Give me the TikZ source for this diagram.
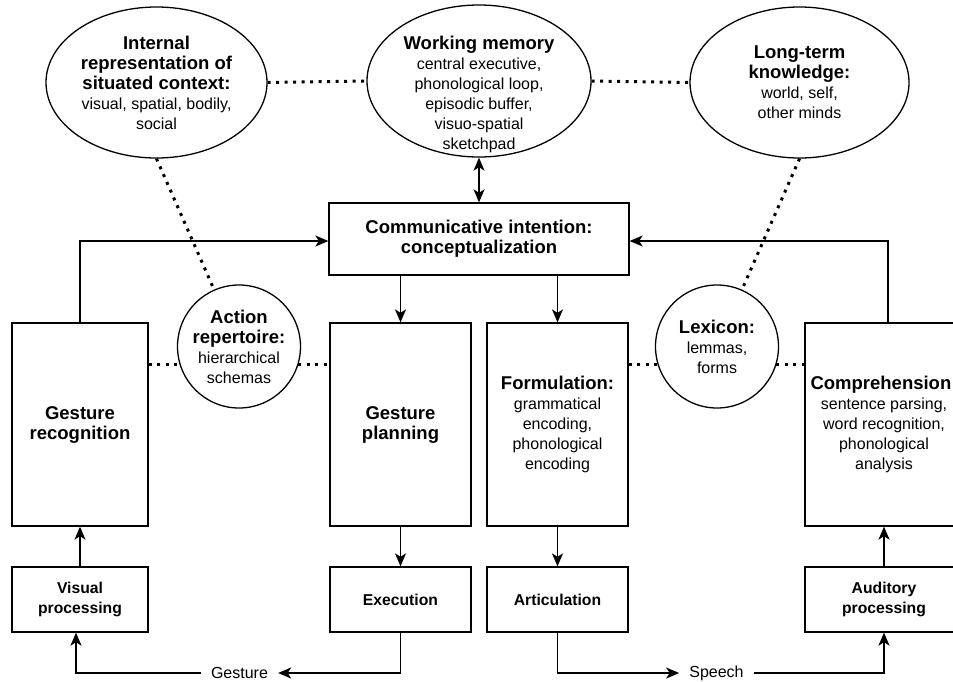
\documentclass[tikz,border=0pt]{standalone}
\usepackage{fontspec}
\setmainfont{Liberation Sans}
\usetikzlibrary{arrows.meta,shapes.geometric}
\newcommand{\tbf}{\fontsize{18.5}{20}\selectfont\bfseries}
\newcommand{\trg}{\fontsize{16}{20}\selectfont}
\newcommand{\sbf}{\fontsize{15.7}{20}\selectfont\bfseries}
\begin{document}
\begin{tikzpicture}[x=1pt,y=-1pt,
  box/.style={draw, line width=1.3pt, rectangle, inner sep=0pt, align=center, font=\trg},
  ell/.style={draw, line width=1.3pt, ellipse, inner sep=0pt, align=center, font=\trg},
  circ/.style={draw, line width=1.3pt, circle, inner sep=0pt, align=center, font=\trg, minimum size=123pt},
  arr/.style={line width=1.8pt, -{Stealth[length=13pt,width=11pt,inset=3.5pt]}},
  dblarr/.style={line width=1.8pt, {Stealth[length=13pt,width=11pt,inset=3.5pt]}-{Stealth[length=13pt,width=11pt,inset=3.5pt]}},
  dotline/.style={line width=3pt, dash pattern=on 3pt off 5.5pt},
  lbl/.style={font=\trg, inner xsep=10pt, inner ysep=0pt}]
\useasboundingbox (0,0) rectangle (953,681);
\clip (0,0) rectangle (953,681);

% ellipses
\node[ell, minimum width=221pt, minimum height=151pt] (ell1) at (156.5,82.5)
  {{\tbf Internal}\\{\tbf representation of}\\{\tbf situated context:}\\visual, spatial, bodily,\\social};
\node[ell, minimum width=224pt, minimum height=152pt] (ell2) at (479,81) {};
\node[align=center, font=\trg, inner sep=0pt] (ell2text) at (479,94.5)
  {{\tbf Working memory}\\central executive,\\phonological loop,\\episodic buffer,\\visuo-spatial\\sketchpad};
\node[ell, minimum width=219pt, minimum height=151pt] (ell3) at (799.5,82.5)
  {{\tbf Long-term}\\{\tbf knowledge:}\\world, self,\\other minds};

% central box
\node[box, minimum width=300pt, minimum height=72pt, font=\tbf] (comm) at (479,239)
  {Communicative intention:\\conceptualization};

% middle boxes
\node[box, minimum width=136pt, minimum height=203pt, font=\tbf] (grec) at (80,424.5)
  {Gesture\\recognition};
\node[box, minimum width=141pt, minimum height=203pt, font=\tbf] (gplan) at (400.5,424.5)
  {Gesture\\planning};
\node[box, minimum width=141pt, minimum height=203pt] (form) at (557.5,424.5)
  {{\tbf Formulation:}\\grammatical\\encoding,\\phonological\\encoding};
\node[box, minimum width=158pt, minimum height=203pt] (comp) at (884,424.5)
  {{\tbf Comprehension:}\\sentence parsing,\\word recognition,\\phonological\\analysis};

% circles
\node[circ] (act) at (239,346.5) {{\tbf Action}\\{\tbf repertoire:}\\hierarchical\\schemas};
\node[circ] (lex) at (717,346.5) {{\tbf Lexicon:}\\lemmas,\\forms};

% lower boxes
\node[box, minimum width=136pt, minimum height=65pt, font=\sbf] (vis) at (80,599.5)
  {Visual\\processing};
\node[box, minimum width=141pt, minimum height=65pt, font=\sbf] (exec) at (400.5,599.5)
  {Execution};
\node[box, minimum width=141pt, minimum height=65pt, font=\sbf] (art) at (557.5,599.5)
  {Articulation};
\node[box, minimum width=158pt, minimum height=65pt, font=\sbf] (aud) at (884,599.5)
  {Auditory\\processing};

% labels
\node[lbl] (gest) at (239.5,673) {Gesture};
\node[lbl] (speech) at (716.5,673) {Speech};

% dotted associations
\draw[dotline] (ell1.east) -- (ell2.west);
\draw[dotline] (ell2.east) -- (ell3.west);
\draw[dotline] (ell1.south) -- (act);
\draw[dotline] (ell3.south) -- (lex);
\draw[dotline] (grec.east |- act.197.5) -- (act.197.5);
\draw[dotline] (act.-17.5) -- (gplan.west |- act.-17.5);
\draw[dotline] (form.east |- lex.197.5) -- (lex.197.5);
\draw[dotline] (lex.-17.5) -- (comp.west |- lex.-17.5);

% arrows
\draw[dblarr] (ell2.south) -- (comm.north);
\draw[arr] (comm.south -| gplan.north) -- (gplan.north);
\draw[arr] (comm.south -| form.north) -- (form.north);
\draw[arr] (grec.north) |- ([yshift=-2pt]comm.west);
\draw[arr] ([xshift=4pt]comp.north) |- ([yshift=-2pt]comm.east);
\draw[arr] (vis.north) -- (grec.south);
\draw[arr] (gplan.south) -- (exec.north);
\draw[arr] (form.south) -- (art.north);
\draw[arr] (aud.north) -- (comp.south);
\draw[arr] (exec.south) |- (gest.east);
\draw[arr] (gest.west) -| ([xshift=-4pt]vis.south);
\draw[arr] (art.south) |- (speech.west);
\draw[arr] (speech.east) -| (aud.south);
\end{tikzpicture}
\end{document}
